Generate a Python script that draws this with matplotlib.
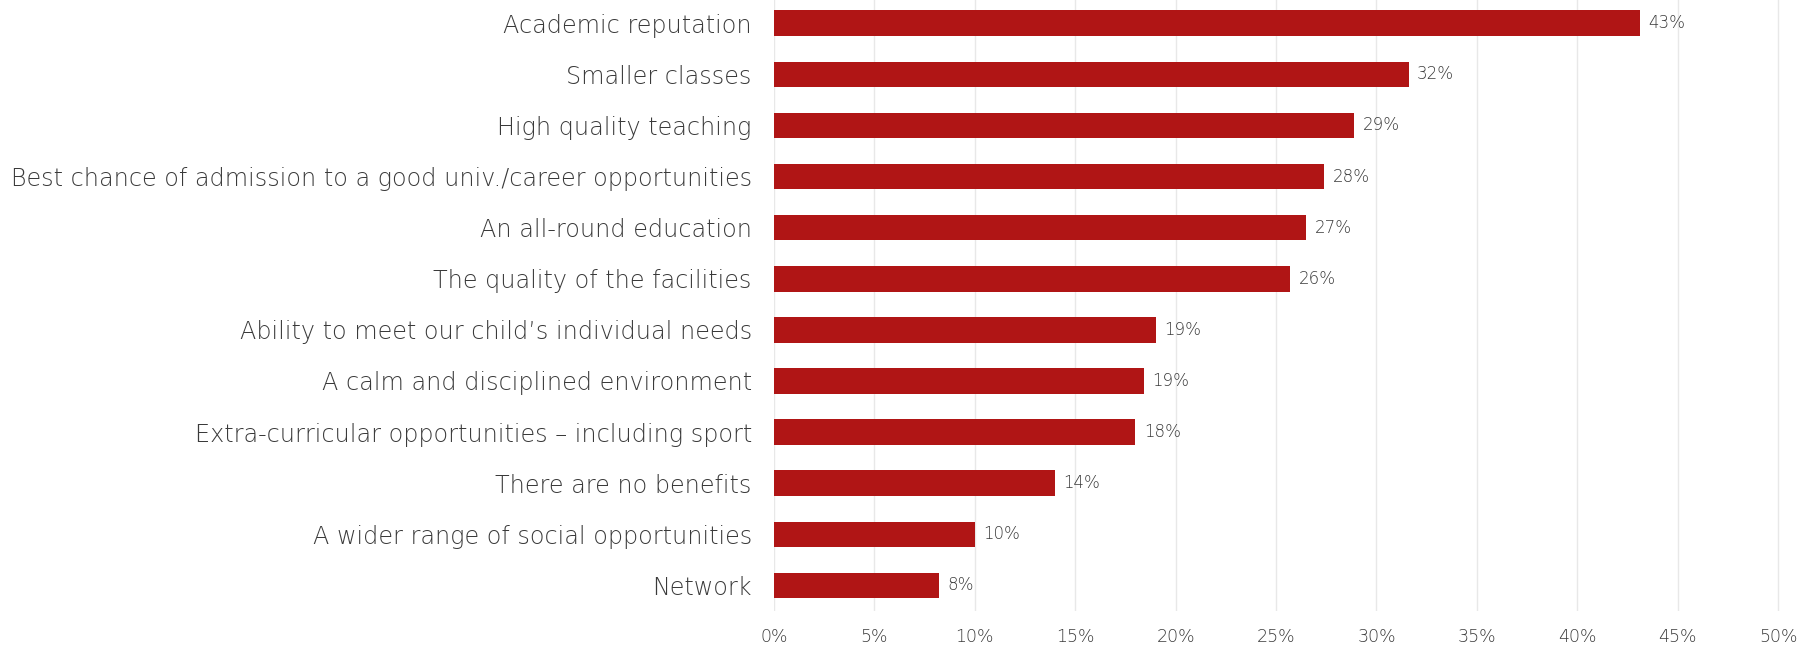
import matplotlib.pyplot as plt

# Data
categories = [
    "Academic reputation",
    "Smaller classes",
    "High quality teaching",
    "Best chance of admission to a good univ./career opportunities",
    "An all-round education",
    "The quality of the facilities",
    "Ability to meet our child\u2019s individual needs",
    "A calm and disciplined environment",
    "Extra-curricular opportunities \u2013 including sport",
    "There are no benefits",
    "A wider range of social opportunities",
    "Network",
]
values = [43.1, 31.6, 28.9, 27.4, 26.5, 25.7, 19.0, 18.4, 18.0, 14.0, 10.0, 8.2]
value_labels = ["43%", "32%", "29%", "28%", "27%", "26%", "19%", "19%", "18%", "14%", "10%", "8%"]
xticks = [0, 5, 10, 15, 20, 25, 30, 35, 40, 45, 50]

plt.rcParams['font.family'] = ['DejaVu Sans']
text_color = '#3A3A3A'
bar_color = '#B01515'

fig = plt.figure(figsize=(18.14, 6.46), dpi=100)
ax = fig.add_axes([0.4267, 0.0542, 0.5557, 0.9495])

y = list(range(len(categories)))
ax.barh(y, values, height=0.5, color=bar_color, zorder=3)

for yi, v, lab in zip(y, values, value_labels):
    ax.annotate(lab, xy=(v, yi), xytext=(6, 0), textcoords='offset points',
                va='center', ha='left', fontsize=12, color=text_color,
                fontweight='light')

ax.set_xlim(0, 50.2)
ax.set_ylim(len(categories) - 0.5, -0.5)
ax.set_xticks(xticks)
ax.set_xticklabels([f"{t}%" for t in xticks])
ax.set_yticks(y)
ax.set_yticklabels(categories)

ax.tick_params(axis='y', length=0, pad=16, labelsize=17.2, labelcolor=text_color)
ax.tick_params(axis='x', length=0, pad=12, labelsize=12.5, labelcolor=text_color)
for lbl in ax.get_yticklabels() + ax.get_xticklabels():
    lbl.set_fontweight('light')

ax.grid(axis='x', color='#E8E8E8', linewidth=1, zorder=0)
for s in ax.spines.values():
    s.set_visible(False)

fig.savefig('out.png', dpi=100)
